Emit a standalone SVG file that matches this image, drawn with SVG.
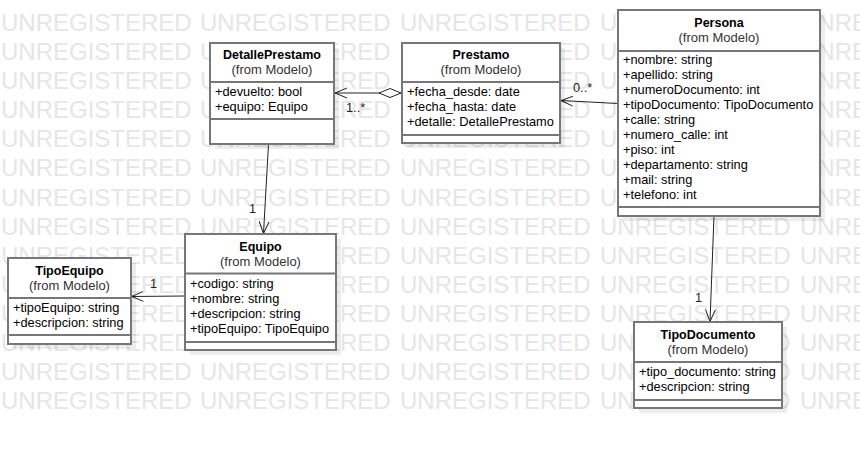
<svg xmlns="http://www.w3.org/2000/svg" xmlns:xlink="http://www.w3.org/1999/xlink" width="860" height="449" viewBox="0 0 860 449">
<style>
text{font-family:"Liberation Sans",Arial,sans-serif;}
.wm{font-size:24px;fill:#e6e6e6;}
.box{fill:#fff;stroke:#777;stroke-width:2;}
.shadow{fill:#000;fill-opacity:0.07;}
.sep{stroke:#777;stroke-width:2;}
.title{font-size:12.5px;font-weight:bold;fill:#000;text-anchor:middle;}
.from{font-size:13px;fill:#333;text-anchor:middle;}
.attr{font-size:12.8px;fill:#000;}
.conn{fill:none;stroke:#222;stroke-width:1;}
.lbl{font-size:12.8px;fill:#222;}
</style>
<defs>
<text id="wmrow" class="wm"><tspan x="1">UNREGISTERED</tspan><tspan x="200">UNREGISTERED</tspan><tspan x="400">UNREGISTERED</tspan><tspan x="600">UNREGISTERED</tspan><tspan x="800">UNREGISTERED</tspan></text>
<marker id="open" markerUnits="userSpaceOnUse" markerWidth="14" markerHeight="12" refX="12" refY="6" orient="auto"><path d="M0,1 L12,6 L0,11" fill="none" stroke="#222" stroke-width="1"/></marker>
<marker id="diamond" markerUnits="userSpaceOnUse" markerWidth="24" markerHeight="12" refX="1" refY="6" orient="auto"><path d="M1,6 L12,1.5 L23,6 L12,10.5 Z" fill="#fff" stroke="#222" stroke-width="1"/></marker>
</defs>
<rect width="860" height="449" fill="#fff"/>
<g id="watermark">
<use xlink:href="#wmrow" y="31"/>
<use xlink:href="#wmrow" y="60"/>
<use xlink:href="#wmrow" y="89"/>
<use xlink:href="#wmrow" y="118"/>
<use xlink:href="#wmrow" y="147"/>
<use xlink:href="#wmrow" y="176"/>
<use xlink:href="#wmrow" y="206"/>
<use xlink:href="#wmrow" y="235"/>
<use xlink:href="#wmrow" y="264"/>
<use xlink:href="#wmrow" y="293"/>
<use xlink:href="#wmrow" y="322"/>
<use xlink:href="#wmrow" y="351"/>
<use xlink:href="#wmrow" y="380"/>
<use xlink:href="#wmrow" y="409"/>
</g>
<g id="connectors">
<path class="conn" d="M401,93 L335,93" marker-start="url(#diamond)" marker-end="url(#open)"/>
<text class="lbl" x="346" y="112">1..*</text>
<path class="conn" d="M618,103.5 L561,100.5" marker-end="url(#open)"/>
<text class="lbl" x="573" y="92">0..*</text>
<path class="conn" d="M268.5,144 L263.5,233.5" marker-end="url(#open)"/>
<text class="lbl" x="249" y="213">1</text>
<path class="conn" d="M185,296 L131.5,296.5" marker-end="url(#open)"/>
<text class="lbl" x="150" y="288">1</text>
<path class="conn" d="M714,216 L710,321.5" marker-end="url(#open)"/>
<text class="lbl" x="695" y="302">1</text>
</g>
<g id="DetallePrestamo">
<rect class="shadow" x="215" y="48" width="124" height="101"/>
<rect class="box" x="210" y="43" width="124" height="101"/>
<line class="sep" x1="210" y1="82" x2="334" y2="82"/>
<line class="sep" x1="210" y1="119" x2="334" y2="119"/>
<text class="title" x="272" y="59">DetallePrestamo</text>
<text class="from" x="272" y="74">(from Modelo)</text>
<text class="attr" x="215" y="96">+devuelto: bool</text>
<text class="attr" x="215" y="111">+equipo: Equipo</text>
</g>
<g id="Prestamo">
<rect class="shadow" x="407" y="48" width="158" height="100"/>
<rect class="box" x="402" y="43" width="158" height="100"/>
<line class="sep" x1="402" y1="82" x2="560" y2="82"/>
<line class="sep" x1="402" y1="135" x2="560" y2="135"/>
<text class="title" x="481" y="59">Prestamo</text>
<text class="from" x="481" y="74">(from Modelo)</text>
<text class="attr" x="407" y="96">+fecha_desde: date</text>
<text class="attr" x="407" y="111">+fecha_hasta: date</text>
<text class="attr" x="407" y="126">+detalle: DetallePrestamo</text>
</g>
<g id="Persona">
<rect class="shadow" x="623" y="15" width="202" height="206"/>
<rect class="box" x="618" y="10" width="202" height="206"/>
<line class="sep" x1="618" y1="51" x2="820" y2="51"/>
<line class="sep" x1="618" y1="207" x2="820" y2="207"/>
<text class="title" x="719" y="27">Persona</text>
<text class="from" x="719" y="42">(from Modelo)</text>
<text class="attr" x="623" y="64">+nombre: string</text>
<text class="attr" x="623" y="79">+apellido: string</text>
<text class="attr" x="623" y="94">+numeroDocumento: int</text>
<text class="attr" x="623" y="109">+tipoDocumento: TipoDocumento</text>
<text class="attr" x="623" y="124">+calle: string</text>
<text class="attr" x="623" y="139">+numero_calle: int</text>
<text class="attr" x="623" y="154">+piso: int</text>
<text class="attr" x="623" y="169">+departamento: string</text>
<text class="attr" x="623" y="184">+mail: string</text>
<text class="attr" x="623" y="199">+telefono: int</text>
</g>
<g id="Equipo">
<rect class="shadow" x="190" y="239" width="151" height="116"/>
<rect class="box" x="185" y="234" width="151" height="116"/>
<line class="sep" x1="185" y1="273.5" x2="336" y2="273.5"/>
<line class="sep" x1="185" y1="342" x2="336" y2="342"/>
<text class="title" x="260.5" y="251">Equipo</text>
<text class="from" x="260.5" y="266">(from Modelo)</text>
<text class="attr" x="190" y="288">+codigo: string</text>
<text class="attr" x="190" y="303">+nombre: string</text>
<text class="attr" x="190" y="318">+descripcion: string</text>
<text class="attr" x="190" y="333">+tipoEquipo: TipoEquipo</text>
</g>
<g id="TipoEquipo">
<rect class="shadow" x="13" y="263" width="123" height="86"/>
<rect class="box" x="8" y="258" width="123" height="86"/>
<line class="sep" x1="8" y1="298" x2="131" y2="298"/>
<line class="sep" x1="8" y1="335" x2="131" y2="335"/>
<text class="title" x="69.5" y="275">TipoEquipo</text>
<text class="from" x="69.5" y="290">(from Modelo)</text>
<text class="attr" x="13" y="312">+tipoEquipo: string</text>
<text class="attr" x="13" y="327">+descripcion: string</text>
</g>
<g id="TipoDocumento">
<rect class="shadow" x="639" y="327" width="148" height="86"/>
<rect class="box" x="634" y="322" width="148" height="86"/>
<line class="sep" x1="634" y1="362" x2="782" y2="362"/>
<line class="sep" x1="634" y1="400" x2="782" y2="400"/>
<text class="title" x="708" y="339">TipoDocumento</text>
<text class="from" x="708" y="354">(from Modelo)</text>
<text class="attr" x="639" y="376">+tipo_documento: string</text>
<text class="attr" x="639" y="391">+descripcion: string</text>
</g>
</svg>
